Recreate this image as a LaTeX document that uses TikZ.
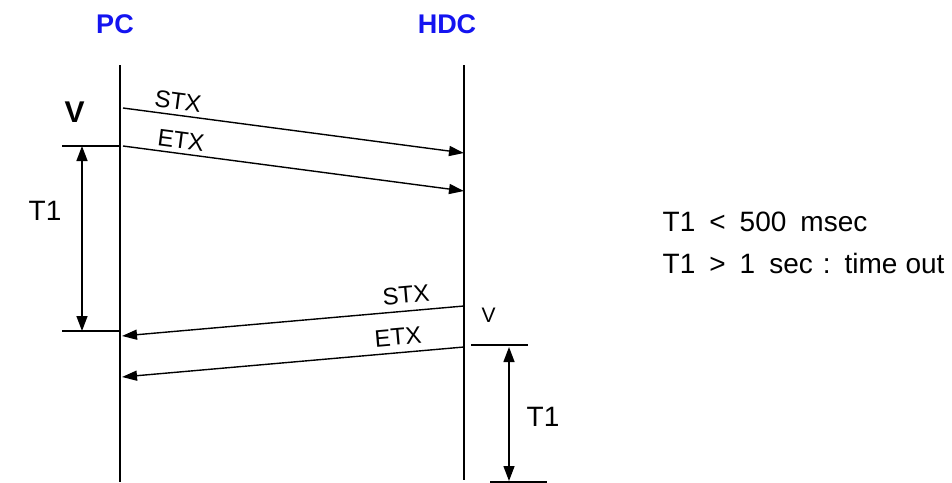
\documentclass[tikz,border=0pt]{standalone}
\usepackage{fontspec}
\setmainfont{Liberation Sans}
\usetikzlibrary{arrows.meta}
\definecolor{partyblue}{RGB}{20,20,240}

\begin{document}
\begin{tikzpicture}[x=1pt, y=-1pt, line width=1.4pt,
    party/.style={font=\fontsize{27}{32}\selectfont\bfseries, text=partyblue, anchor=base, inner sep=0pt},
    lbl/.style={font=\fontsize{28}{34}\selectfont, anchor=base west, inner sep=0pt},
    msg/.style={font=\fontsize{24}{28}\selectfont, inner sep=0pt},
    arr/.style={-{Triangle[length=15pt, width=10pt]}},
    dim/.style={{Triangle[length=15pt, width=11pt]}-{Triangle[length=15pt, width=11pt]}}]
    \useasboundingbox (0,0) rectangle (952,482);
    % parties and lifelines
    \node[party] (pc) at (115,33) {PC};
    \node[party] (hdc) at (447,33) {HDC};
    \coordinate (pctop) at (120,65);
    \coordinate (pcbot) at (120,482);
    \coordinate (hdctop) at (464,65);
    \coordinate (hdcbot) at (464,480);
    \draw (pctop) -- (pcbot);
    \draw (hdctop) -- (hdcbot);
    % PC -> HDC
    \coordinate (stxa) at (123,108);
    \coordinate (stxb) at (464,153);
    \coordinate (etxa) at (123,146);
    \coordinate (etxb) at (464,191);
    \draw[arr] (stxa) -- (stxb);
    \draw[arr] (etxa) -- (etxb);
    \node[msg, rotate=-7.5] (stxout) at (178,101) {STX};
    \node[msg, rotate=-7.5] (etxout) at (181,140) {ETX};
    \node[lbl, font=\fontsize{30}{36}\selectfont\bfseries] (vpc) at (64,122) {V};
    % HDC -> PC
    \coordinate (stxc) at (464,306);
    \coordinate (stxd) at (122,336);
    \coordinate (etxc) at (464,347);
    \coordinate (etxd) at (122,377);
    \draw[arr] (stxc) -- (stxd);
    \draw[arr] (etxc) -- (etxd);
    \node[msg, rotate=5] (stxin) at (406,295) {STX};
    \node[msg, rotate=5] (etxin) at (398,337) {ETX};
    \node[lbl, font=\fontsize{21}{25}\selectfont] (vhdc) at (481,322) {V};
    % T1 on the PC side
    \coordinate (tickpa) at (62,146);
    \coordinate (tickpb) at (120,146);
    \coordinate (tickpc) at (62,331);
    \coordinate (tickpd) at (120,331);
    \draw (tickpa) -- (tickpb);
    \draw (tickpc) -- (tickpd);
    \coordinate (dimpa) at (82,146);
    \coordinate (dimpb) at (82,331);
    \draw[dim] (dimpa) -- (dimpb);
    \node[lbl] (tpc) at (28,220) {T1};
    % T1 on the HDC side
    \coordinate (tickha) at (471,345);
    \coordinate (tickhb) at (528,345);
    \coordinate (tickhc) at (490,482);
    \coordinate (tickhd) at (547,482);
    \draw (tickha) -- (tickhb);
    \draw (tickhc) -- (tickhd);
    \coordinate (dimha) at (509,347);
    \coordinate (dimhb) at (509,481);
    \draw[dim] (dimha) -- (dimhb);
    \node[lbl] (thdc) at (526,426) {T1};
    % timing notes
    \node[lbl] (notea) at (662,231) {T1\hspace{14pt}<\hspace{14pt}500\hspace{14pt}msec};
    \node[lbl] (noteb) at (662,273) {T1\hspace{14pt}>\hspace{14pt}1\hspace{14pt}sec\hspace{10pt}:\hspace{14pt}time\hspace{8pt}out};
\end{tikzpicture}
\end{document}
